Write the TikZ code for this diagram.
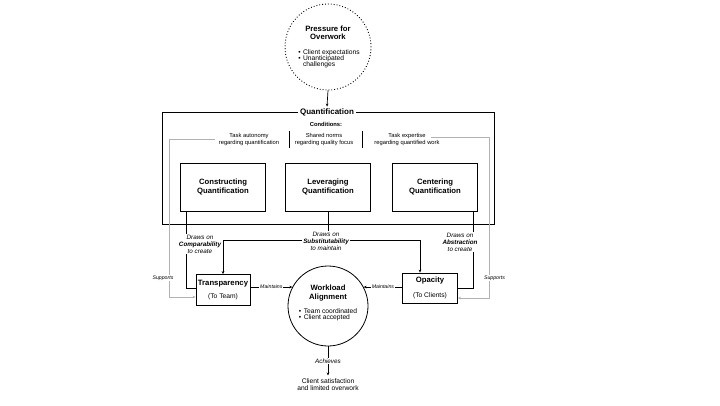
\documentclass[tikz,border=0pt]{standalone}
\usepackage{fontspec}
\setmainfont{Liberation Sans}
\usetikzlibrary{arrows.meta}
\newcommand{\ffTitle}{\fontsize{7.7}{8.4}\selectfont\bfseries}
\newcommand{\ffBody}{\fontsize{6.7}{7.4}\selectfont}
\newcommand{\ffCond}{\fontsize{5.8}{6.8}\selectfont}
\newcommand{\ffNote}{\fontsize{5.2}{6}\selectfont\itshape}
\newcommand{\ffDraws}{\fontsize{6.3}{7}\selectfont\itshape}

\begin{document}
\begin{tikzpicture}[x=1pt, y=-1pt,
		qbox/.style={draw, line width=0.8pt, minimum width=85pt, minimum height=48pt, align=center, font=\ffTitle},
		sbox/.style={draw, line width=0.8pt, align=center, inner sep=0pt},
		link/.style={line width=0.7pt},
		support/.style={draw=black!30, line width=0.7pt},
		tip/.style={-{Stealth[length=3pt, width=2.6pt]}},
		drawslbl/.style={fill=white, align=center, font=\ffDraws, inner sep=1pt},
		notelbl/.style={fill=white, font=\ffNote, inner sep=1pt}]
		\useasboundingbox (0,0) rectangle (720,405);
		\fill[white] (0,0) rectangle (720,405);
		% pressione
		\node[draw, dotted, line width=0.9pt, circle, minimum size=86pt, inner sep=0pt] (pressure) at (328,47) {};
		\node[align=center, font=\ffTitle] (pressuretitle) at (328,33) {Pressure for\\Overwork};
		\node[font=\ffBody, inner sep=0pt] (pressurelist) at (329,59.5)
		{\begin{tabular}{@{}l@{\hspace{2.5pt}}l@{}}
				\textbullet & Client expectations\\[-1.4pt]
				\textbullet & Unanticipated\\[-1.4pt]
				& challenges
		\end{tabular}};
		% quantificazione
		\node[draw, line width=0.8pt, minimum width=332pt, minimum height=112pt, inner sep=0pt] (quant) at (328,168) {};
		\node[fill=white, font=\fontsize{8}{9}\selectfont\bfseries, inner xsep=2pt, inner ysep=1.5pt] (quanttitle) at (327,112) {Quantification};
		\draw[link, tip] (pressure.south) -- (quanttitle.north);
		% condizioni
		\node[font=\ffCond\bfseries] (conditions) at (326,124) {Conditions:};
		\node[font=\ffCond, align=center] (autonomy) at (249,139.5) {Task autonomy\\regarding quantification};
		\node[font=\ffCond, align=center] (norms) at (324,139.5) {Shared norms\\regarding quality focus};
		\node[font=\ffCond, align=center] (expertise) at (407,139.5) {Task expertise\\regarding quantified work};
		\coordinate (divA) at (289,131);
		\coordinate (divB) at (362,131);
		\draw[link] (divA) -- ++(0,17);
		\draw[link] (divB) -- ++(0,17);
		% riquadri interni
		\node[qbox] (construct) at (223,187) {Constructing\\Quantification};
		\node[qbox] (leverage) at (328,187) {Leveraging\\Quantification};
		\node[qbox] (centering) at (435,187) {Centering\\Quantification};
		% esiti
		\node[sbox, minimum width=54pt, minimum height=31pt] (transp) at (223,290)
		{{\ffTitle Transparency}\\[1pt]{\ffBody (To Team)}};
		\node[sbox, minimum width=55pt, minimum height=30pt] (opacity) at (430,288)
		{{\ffTitle Opacity}\\[3pt]{\ffBody (To Clients)}};
		\node[draw, circle, line width=0.8pt, minimum size=80pt, inner sep=0pt] (workload) at (328,306) {};
		\node[align=center, font=\ffTitle] (workloadtitle) at (328,293) {Workload\\Alignment};
		\node[font=\ffBody, inner sep=0pt] (workloadlist) at (328,315)
		{\begin{tabular}{@{}l@{\hspace{2.5pt}}l@{}}
				\textbullet & Team coordinated\\[-1.8pt]
				\textbullet & Client accepted
		\end{tabular}};
		\node[font=\ffBody, align=center] (outcome) at (328,384.5) {Client satisfaction\\[-1.2pt]and limited overwork};
		% supporto (grigio)
		\coordinate (supL) at (215,139);
		\coordinate (supR) at (431,137);
		\draw[support, tip] (supL) -- (169,139) -- (169,297) -- ([yshift=-7pt]transp.west);
		\draw[support, tip] (supR) -- (489,137) -- (489,298) -- ([yshift=-10pt]opacity.east);
		\node[notelbl] (supportsL) at (163,278) {Supports};
		\node[notelbl] (supportsR) at (494.5,278) {Supports};
		% collegamenti
		\draw[link] ([xshift=6pt]construct.south west) |- ([yshift=2pt]transp.west);
		\node[drawslbl] (drawscomp) at (200,244) {Draws on\\\textbf{Comparability}\\to create};
		\coordinate (subst) at (328,240);
		\draw[link] (leverage.south) -- (subst);
		\draw[link, tip] (subst) -| (transp.north);
		\draw[link, tip] (subst) -| ([xshift=-10pt]opacity.north);
		\node[drawslbl] (drawssub) at (326,241.5) {Draws on\\\textbf{Substitutability}\\to maintain};
		\draw[link] ([xshift=-5pt]centering.south east) |- (opacity.east);
		\node[drawslbl] (drawsabs) at (460,242) {Draws on\\\textbf{Abstraction}\\to create};
		\draw[link, tip] (transp.east |- workload.152) -- node[notelbl] (maintL) {Maintains} (workload.152);
		\draw[link, tip] (opacity.west |- workload.28) -- node[notelbl] (maintR) {Maintains} (workload.28);
		\draw[link, tip] (workload.south) -- node[notelbl, font=\fontsize{6.3}{7}\selectfont\itshape] (achieves) {Achieves} (outcome.north);
	\end{tikzpicture}
\end{document}
